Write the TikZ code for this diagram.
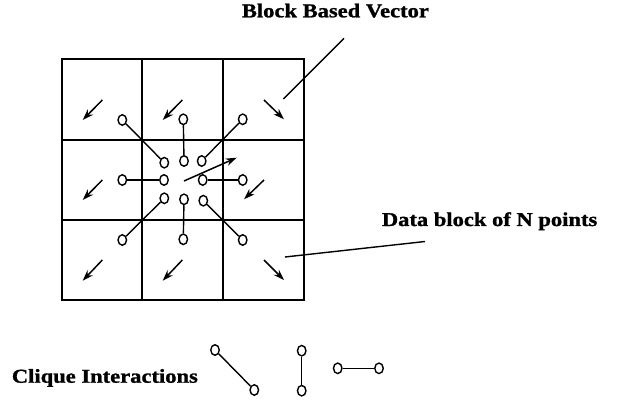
\documentclass[tikz,border=0pt]{standalone}
\usepackage{fontspec}
\setmainfont{Liberation Serif}
\newfontfamily\labelfont{Liberation Serif}[FakeStretch=1.15,FakeBold=1.2]
\usetikzlibrary{arrows.meta,shapes.geometric}
\begin{document}
\begin{tikzpicture}[x=1pt,y=-1pt,
  site/.style={draw,ellipse,minimum width=8.5pt,minimum height=10.5pt,inner sep=0pt,line width=1.4pt},
  bond/.style={line width=1.4pt},
  gridline/.style={line width=2.4pt},
  vec/.style={line width=1.5pt,-{Stealth[length=11pt,width=7.5pt]}},
  pointer/.style={line width=1.4pt},
  lbl/.style={inner sep=0pt,anchor=base west,font=\labelfont\bfseries\fontsize{19.6}{22}\selectfont}]
\useasboundingbox (0,0) rectangle (618,403);

% 3x3 block grid
\draw[gridline] (62,59) rectangle (304,300);
\draw[gridline] (142,59) -- (142,300) (223,59) -- (223,300)
                (62,140) -- (304,140) (62,220) -- (304,220);

% block vectors
\draw[vec] (102.3,100) -- (82.7,120);
\draw[vec] (182.3,100) -- (162.7,120);
\draw[vec] (264,100) -- (284,119.3);
\draw[vec] (102.3,180) -- (82.7,200);
\draw[vec] (264,180) -- (244,199.3);
\draw[vec] (102.3,260) -- (82.7,280.7);
\draw[vec] (182.3,260) -- (162.7,280.7);
\draw[vec] (264,260) -- (284,280);
\draw[vec] (184,181) -- (236.7,157.7);

% sites of the neighbourhood
\node[site] (oTL) at (122.3,120) {};
\node[site] (iTL) at (164.3,162.7) {};
\node[site] (oT)  at (183.3,119.3) {};
\node[site] (iT)  at (184,161) {};
\node[site] (oTR) at (242.7,119.3) {};
\node[site] (iTR) at (201.7,161) {};
\node[site] (oL)  at (122.3,180) {};
\node[site] (iL)  at (164,180) {};
\node[site] (oR)  at (242.7,180) {};
\node[site] (iR)  at (202.7,180) {};
\node[site] (oBL) at (122.3,240) {};
\node[site] (iBL) at (164.3,198.3) {};
\node[site] (oB)  at (183.3,239.3) {};
\node[site] (iB)  at (184,199.3) {};
\node[site] (oBR) at (242.7,240) {};
\node[site] (iBR) at (203.3,200.7) {};

\foreach \p in {TL,T,TR,L,R,BL,B,BR}
  \draw[bond] (o\p) -- (i\p);

% labels and their pointers
\node[lbl] (vlabel) at (241.7,17.3) {Block Based Vector};
\node[lbl] (dlabel) at (381.7,226) {Data block of N points};
\node[lbl] (clabel) at (11.7,382.7) {Clique Interactions};
\coordinate (vtip) at (283.3,99);
\coordinate (vend) at (344,38.3);
\coordinate (dtip) at (285,257);
\coordinate (dend) at (425,241.5);
\draw[pointer] (vend) -- (vtip);
\draw[pointer] (dend) -- (dtip);

% clique types
\node[site] (c1a) at (215,350) {};
\node[site] (c1b) at (254.3,390) {};
\node[site] (c2a) at (301.7,350.7) {};
\node[site] (c2b) at (301.7,390.7) {};
\node[site] (c3a) at (337.7,368.3) {};
\node[site] (c3b) at (379,368.3) {};
\draw[bond] (c1a) -- (c1b);
\draw[bond] (c2a) -- (c2b);
\draw[bond] (c3a) -- (c3b);
\end{tikzpicture}
\end{document}
